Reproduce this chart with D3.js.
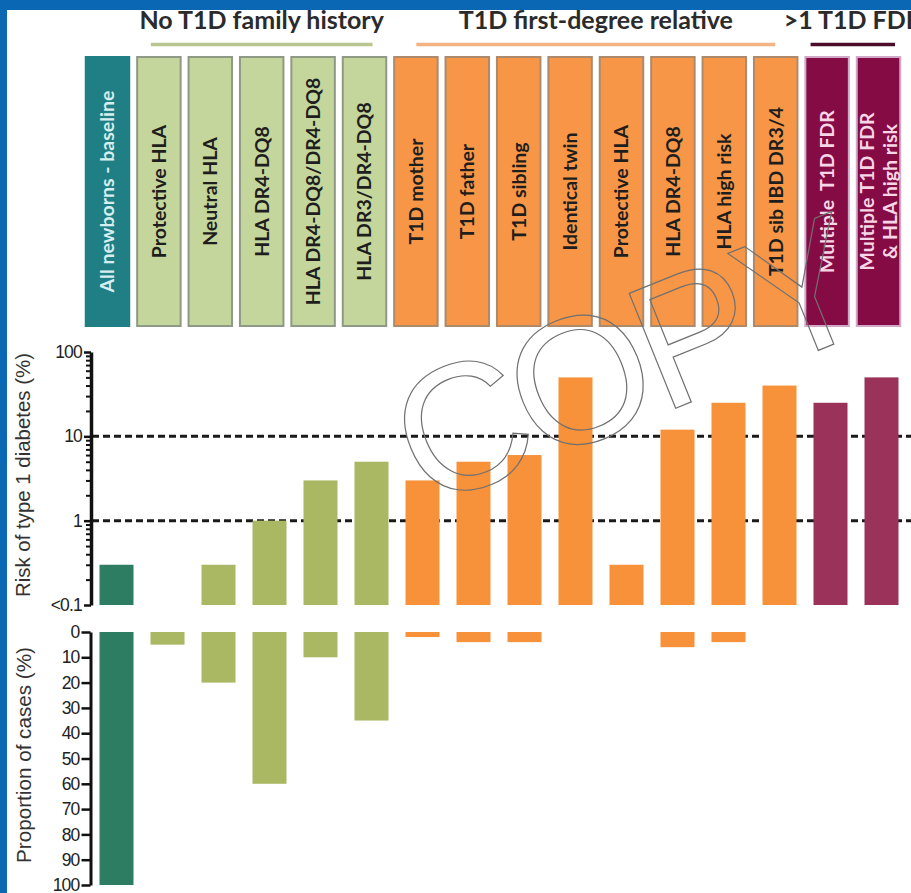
<!DOCTYPE html>
<html>
<head>
<meta charset="utf-8">
<script src="https://cdn.jsdelivr.net/npm/d3@7"></script>
<style>
  html, body { margin: 0; padding: 0; background: #ffffff; }
  svg { display: block; }
  .hdr { white-space: pre; }
</style>
</head>
<body>
<svg id="chart" width="911" height="893"></svg>
<script>
// ---- data -------------------------------------------------------------
const categories = [
  "All newborns - baseline",
  "Protective HLA",
  "Neutral HLA",
  "HLA DR4-DQ8",
  "HLA DR4-DQ8/DR4-DQ8",
  "HLA DR3/DR4-DQ8",
  "T1D mother",
  "T1D father",
  "T1D sibling",
  "Identical twin",
  "Protective HLA",
  "HLA DR4-DQ8",
  "HLA high risk",
  "T1D sib IBD DR3/4",
  "Multiple  T1D FDR",
  "Multiple T1D FDR\n& HLA high risk"
];
const categoryGroup = [
  "base",
  "none", "none", "none", "none", "none",
  "fdr", "fdr", "fdr", "fdr", "fdr", "fdr", "fdr", "fdr",
  "multi", "multi"
];
// risk of type 1 diabetes (%), log scale; null = below 0.1
const riskValues = [0.3, null, 0.3, 1, 3, 5, 3, 5, 6, 50, 0.3, 12, 25, 40, 25, 50];
// proportion of cases (%)
const caseValues = [100, 5, 20, 60, 10, 35, 2, 4, 4, null, null, 6, 4, null, null, null];

const groupTitles = ["No T1D family history", "T1D first-degree relative", ">1 T1D FDR"];
const groupKeys = ["none", "fdr", "multi"];

const riskTicks = [0.1, 1, 10, 100];
const riskTickLabels = ["<0.1", "1", "10", "100"];
const riskMinorTicks = [0.2, 0.3, 0.4, 0.5, 0.6, 0.7, 0.8, 0.9,
                        2, 3, 4, 5, 6, 7, 8, 9,
                        20, 30, 40, 50, 60, 70, 80, 90];
const caseTicks = [0, 10, 20, 30, 40, 50, 60, 70, 80, 90, 100];
const riskRefLines = [1, 10];

// stamp glyphs and their centre offsets along the tilted baseline
const stampLetters = ["C", "O", "P", "Y"];
const stampOffsets = [-205, -78, 45, 162];

// ---- styling ----------------------------------------------------------
const headerFill   = { base: "#1f7f84", none: "#c4d69b", fdr: "#f79646", multi: "#850b45" };
const headerStroke = { base: "#1f7f84", none: "#8e9a86", fdr: "#ad8a6c", multi: "#d2a8c8" };
const headerText   = { base: "#d6eef0", none: "#1e1e1e", fdr: "#1e1e1e", multi: "#f6d6e6" };
const barFill      = { base: "#2d7d63", none: "#aab864", fdr: "#f7923b", multi: "#9a3259" };
const ruleColor    = { none: "#b9c68f", fdr: "#f4b383", multi: "#4d0c2c" };
const sansFont = "'Liberation Sans', Arial, Helvetica, sans-serif";
const labelFont = "Lato, 'Open Sans', sans-serif";

const svg = d3.select("#chart");
const W = 911, H = 893;

svg.append("rect").attr("width", W).attr("height", H).attr("fill", "#ffffff");

const idx = d3.range(categories.length);

// ---- scales -----------------------------------------------------------
const xHeader = d3.scaleBand().domain(idx).range([81.8, 904.2])
  .paddingInner(0.154).paddingOuter(0.077);
const xBar = d3.scaleBand().domain(idx).range([91, 907])
  .paddingInner(1 / 3).paddingOuter(1 / 6);
const yRisk = d3.scaleLog().domain([0.1, 100]).range([605, 352]);
const yCases = d3.scaleLinear().domain([0, 100]).range([632, 885]);

// ---- group titles and rules ------------------------------------------
groupKeys.forEach((g, gi) => {
  const members = idx.filter(i => categoryGroup[i] === g);
  const x0 = xHeader(members[0]);
  const x1 = xHeader(members[members.length - 1]) + xHeader.bandwidth();
  const cx = (x0 + x1) / 2;
  const half = (x1 - x0) * 0.445;
  svg.append("text")
    .attr("x", cx).attr("y", 29)
    .attr("text-anchor", "middle")
    .attr("font-family", labelFont)
    .attr("font-weight", 700)
    .attr("font-size", 25)
    .attr("fill", "#2b2b2b")
    .text(groupTitles[gi]);
  svg.append("line")
    .attr("x1", cx - half).attr("x2", cx + half)
    .attr("y1", 44.5).attr("y2", 44.5)
    .attr("stroke", ruleColor[g]).attr("stroke-width", 3.5);
});

// ---- header boxes -----------------------------------------------------
const hTop = 57, hBot = 326;
const headers = svg.append("g").selectAll("g").data(idx).join("g");
headers.append("rect")
  .attr("x", i => xHeader(i)).attr("y", hTop)
  .attr("width", xHeader.bandwidth()).attr("height", hBot - hTop)
  .attr("fill", i => headerFill[categoryGroup[i]])
  .attr("stroke", i => headerStroke[categoryGroup[i]])
  .attr("stroke-width", 2);
headers.each(function (i) {
  const lines = categories[i].split("\n");
  const cx = xHeader(i) + xHeader.bandwidth() / 2;
  const cy = (hTop + hBot) / 2;
  const t = d3.select(this).append("text")
    .attr("class", "hdr")
    .attr("transform", `translate(${cx},${cy}) rotate(-90)`)
    .attr("text-anchor", "middle")
    .attr("font-family", labelFont)
    .attr("font-weight", 700)
    .attr("font-size", 19.5)
    .attr("fill", headerText[categoryGroup[i]]);
  const gap = 23;
  lines.forEach((ln, li) => {
    t.append("tspan")
      .attr("x", 0)
      .attr("y", (li - (lines.length - 1) / 2) * gap)
      .attr("dy", "0.35em")
      .text(ln);
  });
});

// ---- top panel: risk (log scale) --------------------------------------
const riskPanel = svg.append("g");
riskPanel.selectAll("line.ref").data(riskRefLines).join("line")
  .attr("class", "ref")
  .attr("x1", 92).attr("x2", W)
  .attr("y1", d => yRisk(d)).attr("y2", d => yRisk(d))
  .attr("stroke", "#1a1a1a").attr("stroke-width", 3)
  .attr("stroke-dasharray", "7,4");

riskPanel.selectAll("rect.bar").data(idx.filter(i => riskValues[i] != null)).join("rect")
  .attr("class", "bar")
  .attr("x", i => xBar(i)).attr("width", xBar.bandwidth())
  .attr("y", i => yRisk(riskValues[i]))
  .attr("height", i => yRisk(0.1) - yRisk(riskValues[i]))
  .attr("fill", i => barFill[categoryGroup[i]]);

const axisX = 91;
const minorAxis = svg.append("g").attr("transform", `translate(${axisX},0)`)
  .call(d3.axisLeft(yRisk).tickValues(riskMinorTicks).tickSize(5).tickFormat(""));
minorAxis.select(".domain").remove();
minorAxis.selectAll("line").attr("stroke", "#111").attr("stroke-width", 2);

const riskAxis = svg.append("g").attr("transform", `translate(${axisX},0)`)
  .call(d3.axisLeft(yRisk).tickValues(riskTicks).tickSizeInner(7).tickSizeOuter(0)
    .tickPadding(2).tickFormat((d, i) => riskTickLabels[i]));
riskAxis.select(".domain").attr("stroke", "#111").attr("stroke-width", 3.5);
riskAxis.selectAll(".tick line").attr("stroke", "#111").attr("stroke-width", 2.5);
riskAxis.selectAll(".tick text")
  .attr("font-family", sansFont)
  .attr("font-size", 17.5).attr("letter-spacing", -0.8).attr("fill", "#222");

svg.append("text")
  .attr("transform", `translate(23,475) rotate(-90)`)
  .attr("text-anchor", "middle").attr("dy", "0.35em")
  .attr("font-family", sansFont)
  .attr("font-size", 20).attr("fill", "#333")
  .attr("textLength", 244).attr("lengthAdjust", "spacingAndGlyphs")
  .text("Risk of type 1 diabetes (%)");

// ---- bottom panel: proportion of cases --------------------------------
svg.append("g").selectAll("rect").data(idx.filter(i => caseValues[i] != null)).join("rect")
  .attr("x", i => xBar(i)).attr("width", xBar.bandwidth())
  .attr("y", yCases(0))
  .attr("height", i => yCases(caseValues[i]) - yCases(0))
  .attr("fill", i => barFill[categoryGroup[i]]);

const caseAxis = svg.append("g").attr("transform", `translate(90.5,0)`)
  .call(d3.axisLeft(yCases).tickValues(caseTicks).tickSizeInner(9).tickSizeOuter(0)
    .tickPadding(2));
caseAxis.select(".domain").attr("stroke", "#111").attr("stroke-width", 3);
caseAxis.selectAll(".tick line").attr("stroke", "#111").attr("stroke-width", 2.5);
caseAxis.selectAll(".tick text")
  .attr("font-family", sansFont)
  .attr("font-size", 17.5).attr("letter-spacing", -0.8).attr("fill", "#222");

svg.append("text")
  .attr("transform", `translate(24,755) rotate(-90)`)
  .attr("text-anchor", "middle").attr("dy", "0.35em")
  .attr("font-family", sansFont)
  .attr("font-size", 20).attr("fill", "#333")
  .attr("textLength", 216).attr("lengthAdjust", "spacingAndGlyphs")
  .text("Proportion of cases (%)");

// ---- outlined stamp across the figure ---------------------------------
const stampAngle = -22 * Math.PI / 180;
const stampOrigin = [676, 408];
svg.append("g").selectAll("text").data(stampLetters).join("text")
  .attr("transform", (d, i) => {
    const a = stampOffsets[i];
    const x = stampOrigin[0] + a * Math.cos(stampAngle);
    const y = stampOrigin[1] + a * Math.sin(stampAngle);
    return `translate(${x},${y}) rotate(-22)`;
  })
  .attr("text-anchor", "middle")
  .attr("font-family", sansFont)
  .attr("font-size", 180)
  .attr("fill", "none").attr("stroke", "#707070").attr("stroke-width", 1.2)
  .text(d => d);

// ---- blue frame -------------------------------------------------------
svg.append("rect").attr("x", 0).attr("y", 0).attr("width", W).attr("height", 10).attr("fill", "#0a67b3");
svg.append("rect").attr("x", 0).attr("y", 0).attr("width", 7).attr("height", H).attr("fill", "#0a67b3");
</script>
</body>
</html>
